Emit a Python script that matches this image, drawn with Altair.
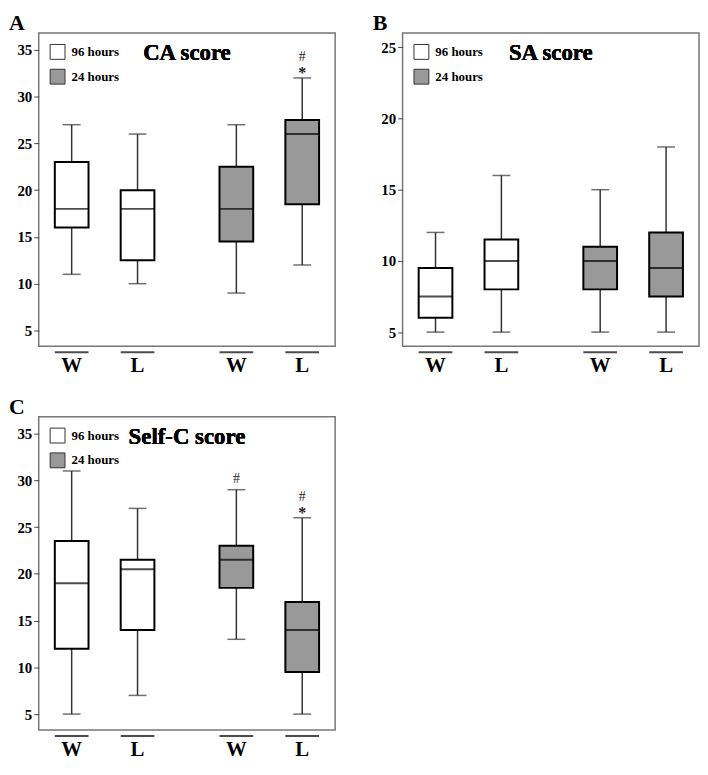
import altair as alt
import pandas as pd

groups = ["96 hours", "96 hours", "24 hours", "24 hours"]
conds = ["W", "L", "W", "L"]

# Panel A: CA score
a_min = [11, 10, 9, 12]
a_q1 = [16, 12.5, 14.5, 18.5]
a_med = [18, 18, 18, 26]
a_q3 = [23, 20, 22.5, 27.5]
a_max = [27, 26, 27, 32]
a_star = ["", "", "", "*"]
a_hash_low = ["", "", "", ""]
a_hash_high = ["", "", "", "#"]

# Panel B: SA score
b_min = [5, 5, 5, 5]
b_q1 = [6, 8, 8, 7.5]
b_med = [7.5, 10, 10, 9.5]
b_q3 = [9.5, 11.5, 11, 12]
b_max = [12, 16, 15, 18]
b_star = ["", "", "", ""]
b_hash_low = ["", "", "", ""]
b_hash_high = ["", "", "", ""]

# Panel C: Self-C score
c_min = [5, 7, 13, 5]
c_q1 = [12, 14, 18.5, 9.5]
c_med = [19, 20.5, 21.5, 14]
c_q3 = [23.5, 21.5, 23, 17]
c_max = [31, 27, 29, 26]
c_star = ["", "", "", "*"]
c_hash_low = ["", "", "#", ""]
c_hash_high = ["", "", "", "#"]

W = 299
H = 316
SERIF = "Liberation Serif"


def panel(letter, title, mn, q1, med, q3, mx, star, hlow, hhigh, domain, ticks):
    df = pd.DataFrame({"group": groups, "cond": conds, "min": mn, "q1": q1,
                       "med": med, "q3": q3, "max": mx, "star": star,
                       "hlow": hlow, "hhigh": hhigh})
    x = alt.X("group:N", sort=["96 hours", "24 hours"],
              scale=alt.Scale(paddingInner=0.2, paddingOuter=0), axis=None)
    xo = alt.XOffset("cond:N", sort=["W", "L"],
                     scale=alt.Scale(paddingInner=0, paddingOuter=0))
    ysc = alt.Scale(domain=domain, nice=False, zero=False)
    yax = alt.Axis(values=ticks, labelFont=SERIF, labelFontWeight="bold",
                   labelFontSize=15, labelColor="black", tickColor="#444",
                   tickSize=5, labelPadding=2, domain=False, grid=False, title=None)
    base = alt.Chart(df)
    whisk = base.mark_rule(color="#333", strokeWidth=1.5).encode(
        x=x, xOffset=xo, y=alt.Y("min:Q", scale=ysc, axis=yax), y2="max:Q")
    cap_lo = base.mark_tick(orient="horizontal", size=18, thickness=1.5, color="#333").encode(
        x=x, xOffset=xo, y="min:Q")
    cap_hi = base.mark_tick(orient="horizontal", size=18, thickness=1.5, color="#333").encode(
        x=x, xOffset=xo, y="max:Q")
    box = base.mark_bar(size=34, stroke="black", strokeWidth=2).encode(
        x=x, xOffset=xo, y="q1:Q", y2="q3:Q",
        fill=alt.Fill("group:N",
                      scale=alt.Scale(domain=["96 hours", "24 hours"], range=["white", "#999999"]),
                      legend=alt.Legend(orient="top-left", title=None, symbolType="square",
                                        symbolSize=225, symbolStrokeColor="#333",
                                        symbolStrokeWidth=1, labelFont=SERIF,
                                        labelFontWeight="bold", labelFontSize=13,
                                        labelColor="black", rowPadding=5, offset=11,
                                        padding=0, labelOffset=6)))
    medt = base.mark_tick(orient="horizontal", size=34, thickness=2, color="black").encode(
        x=x, xOffset=xo, y="med:Q")
    under = base.mark_tick(orient="horizontal", size=34, thickness=2, color="black").encode(
        x=x, xOffset=xo, y=alt.value(H + 6))
    labs = base.mark_text(font=SERIF, fontWeight="bold", fontSize=21, color="black",
                          baseline="middle").encode(
        x=x, xOffset=xo, y=alt.value(H + 20), text="cond:N")
    ann_star = base.mark_text(font=SERIF, fontSize=16, fontWeight="bold", dy=-5,
                              color="#222", baseline="middle").encode(
        x=x, xOffset=xo, y="max:Q", text="star:N")
    ann_hlow = base.mark_text(font=SERIF, fontSize=14, dy=-11, color="#222",
                              baseline="middle").encode(
        x=x, xOffset=xo, y="max:Q", text="hlow:N")
    ann_hhigh = base.mark_text(font=SERIF, fontSize=14, dy=-21, color="#222",
                               baseline="middle").encode(
        x=x, xOffset=xo, y="max:Q", text="hhigh:N")
    ttl = base.mark_text(font=SERIF, fontWeight="bold", fontSize=23, color="black",
                         baseline="middle").encode(
        x=alt.value(W * 0.5), y=alt.value(20), text=alt.value(title))
    return alt.layer(whisk, cap_lo, cap_hi, box, medt, under, labs,
                     ann_star, ann_hlow, ann_hhigh, ttl).properties(
        width=W, height=H,
        title=alt.Title(letter, anchor="start", frame="bounds", font=SERIF, fontSize=22,
                        fontWeight="bold", color="black", dx=-8, offset=-2))


pa = panel("A", "CA score", a_min, a_q1, a_med, a_q3, a_max, a_star, a_hash_low, a_hash_high,
           [3.3, 36.8], [5, 10, 15, 20, 25, 30, 35])
pb = panel("B", "SA score", b_min, b_q1, b_med, b_q3, b_max, b_star, b_hash_low, b_hash_high,
           [4, 26], [5, 10, 15, 20, 25])
pc = panel("C", "Self-C score", c_min, c_q1, c_med, c_q3, c_max, c_star, c_hash_low, c_hash_high,
           [3.3, 36.8], [5, 10, 15, 20, 25, 30, 35])

top = alt.hconcat(pa, pb, spacing=36).resolve_scale(fill="independent", y="independent")
chart = alt.vconcat(top, pc, spacing=18).resolve_scale(
    fill="independent", y="independent").properties(
    padding=0, background="white").configure_view(stroke="#777", strokeWidth=1.5)

chart.save("out.html", embed_options={"renderer": "svg", "actions": False})
